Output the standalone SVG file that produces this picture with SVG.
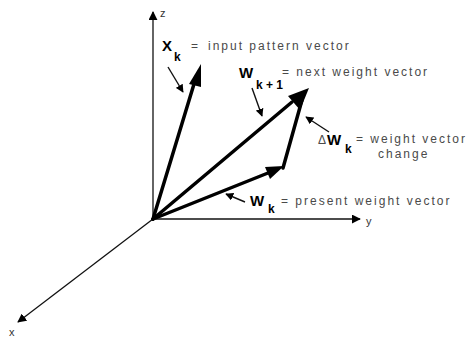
<svg xmlns="http://www.w3.org/2000/svg" width="471" height="338" viewBox="0 0 471 338">
<defs>
<style>
.axis{stroke:#111;stroke-width:1.3;fill:none}
.vec{stroke:#000;stroke-width:3.5;fill:none;stroke-linecap:round}
.ptr{stroke:#111;stroke-width:1.4;fill:none}
.head{fill:#000}
.lbl{font-family:"Liberation Sans",Arial,sans-serif;font-size:12px;fill:#4a4a4a;letter-spacing:2px}
.sym{font-family:"Liberation Sans",Arial,sans-serif;font-size:15px;font-weight:bold;fill:#000}
.sub{font-family:"Liberation Sans",Arial,sans-serif;font-size:12px;font-weight:bold;fill:#000}
.ax{font-family:"Liberation Sans",Arial,sans-serif;font-size:11px;fill:#333}
</style>
<marker id="axh" viewBox="0 0 10 10" refX="9" refY="5" markerWidth="9" markerHeight="9" markerUnits="userSpaceOnUse" orient="auto"><path d="M0,0 L10,5 L0,10 z" class="head"/></marker>
<marker id="ph" viewBox="0 0 10 10" refX="9" refY="5" markerWidth="8" markerHeight="8" markerUnits="userSpaceOnUse" orient="auto"><path d="M0,0 L10,5 L0,10 z" class="head"/></marker>
</defs>

<g id="connectors">
<line id="z-axis" class="axis" x1="153" y1="219" x2="153" y2="12" marker-end="url(#axh)"/>
<line id="y-axis" class="axis" x1="153" y1="219" x2="360" y2="219" marker-end="url(#axh)"/>
<line id="x-axis" class="axis" x1="153" y1="219" x2="18" y2="322" marker-end="url(#axh)"/>

<line id="vec-xk" class="vec" x1="153" y1="219" x2="194" y2="84"/>
<polygon class="head" points="201,64 189,84 201,87"/>
<line id="vec-wk1" class="vec" x1="153" y1="219" x2="292" y2="102"/>
<polygon class="head" points="309,88 288,96 300,110"/>
<line id="vec-wk" class="vec" x1="153" y1="219" x2="268" y2="173"/>
<polygon class="head" points="284,166 265,167 270,179"/>
<line id="vec-dwk" class="vec" x1="283" y1="168" x2="302" y2="100" stroke-width="3"/>

<line class="ptr" x1="168" y1="67" x2="183" y2="92" marker-end="url(#ph)"/>
<line class="ptr" x1="252" y1="88" x2="262" y2="116" marker-end="url(#ph)"/>
<line class="ptr" x1="329" y1="132" x2="306" y2="117" marker-end="url(#ph)"/>
<line class="ptr" x1="245" y1="202" x2="226" y2="194" marker-end="url(#ph)"/>
</g>

<g id="label-z"><text class="ax" x="160" y="17">z</text></g>
<g id="label-y"><text class="ax" x="366" y="225">y</text></g>
<g id="label-x"><text class="ax" x="9" y="336">x</text></g>

<g id="node-xk">
<text class="sym" x="162" y="51">X</text>
<text class="sub" x="174" y="61">k</text>
<text class="lbl" x="191" y="50">=</text>
<text class="lbl" x="208" y="50">input pattern vector</text>
</g>

<g id="node-wk1">
<text class="sym" x="239" y="78">W</text>
<text class="sub" x="256" y="89" font-size="11">k + 1</text>
<text class="lbl" x="282" y="76">= next weight vector</text>
</g>

<g id="node-dwk">
<text class="lbl" x="318" y="144" font-size="8" letter-spacing="0">Δ</text>
<text class="sym" x="327" y="145" font-size="14">W</text>
<text class="sub" x="345" y="153">k</text>
<text class="lbl" x="356" y="143">= weight vector</text>
<text class="lbl" x="378" y="158">change</text>
</g>

<g id="node-wk">
<text class="sym" x="250" y="206">W</text>
<text class="sub" x="268" y="213">k</text>
<text class="lbl" x="281" y="205">= present weight vector</text>
</g>
</svg>
